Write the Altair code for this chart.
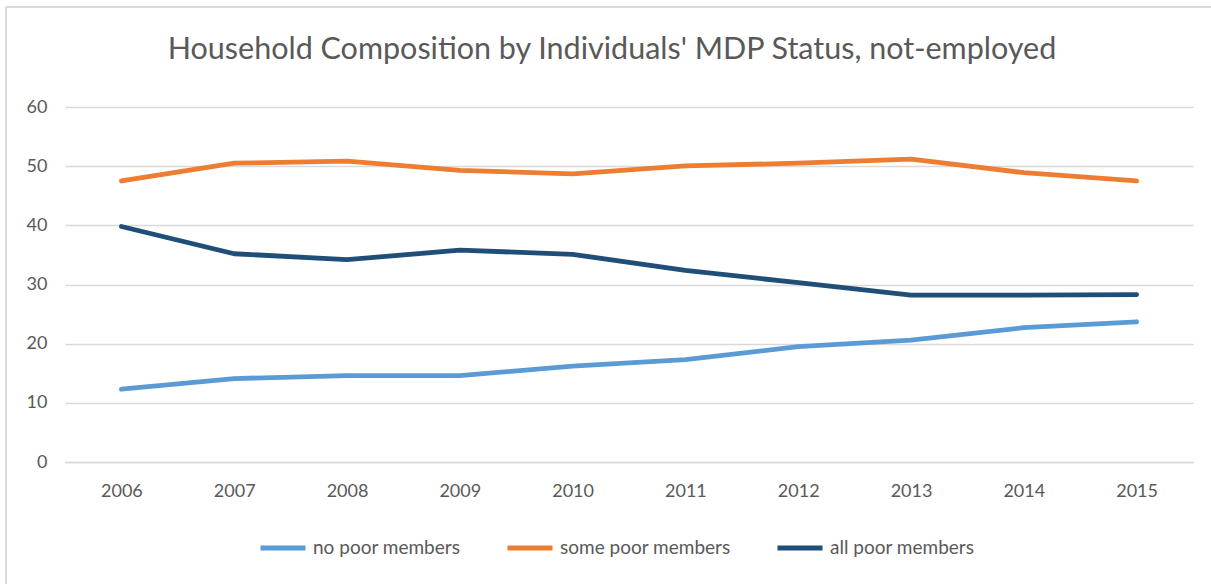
import altair as alt
import pandas as pd

years = ["2006", "2007", "2008", "2009", "2010", "2011", "2012", "2013", "2014", "2015"]
no_poor = [12.3, 14.1, 14.6, 14.6, 16.2, 17.3, 19.5, 20.6, 22.7, 23.7]
some_poor = [47.5, 50.5, 50.85, 49.3, 48.7, 50.05, 50.5, 51.2, 48.9, 47.5]
all_poor = [39.8, 35.2, 34.2, 35.8, 35.1, 32.4, 30.3, 28.2, 28.2, 28.3]
series_names = ["no poor members", "some poor members", "all poor members"]
series_colors = ["#5B9BD5", "#ED7D31", "#1F4E79"]
y_ticks = [0, 10, 20, 30, 40, 50, 60]

rows = []
for name, vals in zip(series_names, [no_poor, some_poor, all_poor]):
    for yr, v in zip(years, vals):
        rows.append({"year": yr, "value": v, "series": name})
df = pd.DataFrame(rows)

FONT = "Lato"

lines = alt.Chart(df).mark_line(strokeWidth=4.8, strokeCap="round", strokeJoin="round").encode(
    x=alt.X("year:O", sort=years,
            scale=alt.Scale(type="point", padding=0.5),
            axis=alt.Axis(title=None, labelAngle=0, ticks=False, domain=True,
                          domainColor="#d9d9d9", domainWidth=1.5, grid=False,
                          labelPadding=20, labelFontSize=18, labelColor="#595959",
                          labelFont=FONT)),
    y=alt.Y("value:Q", scale=alt.Scale(domain=[0, 60], nice=False),
            axis=alt.Axis(title=None, values=y_ticks, ticks=False, domain=False,
                          grid=True, gridColor="#d9d9d9", gridWidth=1.5,
                          labelPadding=18, labelFontSize=18, labelColor="#595959",
                          labelFont=FONT)),
    color=alt.Color("series:N", sort=series_names,
                    scale=alt.Scale(domain=series_names, range=series_colors),
                    legend=alt.Legend(title=None, orient="none", direction="horizontal",
                                      legendX=193, legendY=416,
                                      symbolType="stroke", symbolSize=2025,
                                      symbolStrokeWidth=5, labelOffset=5,
                                      columnPadding=36, labelLimit=0,
                                      labelFontSize=19, labelColor="#595959",
                                      labelFont=FONT)),
)

frame_left = alt.Chart(df).mark_rule(color="#d9d9d9", strokeWidth=2, clip=False).encode(
    x=alt.value(-59), y=alt.value(-100), y2=alt.value(490))
frame_top = alt.Chart(df).mark_rule(color="#d9d9d9", strokeWidth=2, clip=False).encode(
    x=alt.value(-59), x2=alt.value(1160), y=alt.value(-100))

chart = alt.layer(frame_left, frame_top, lines).properties(
    width=1128, height=355,
    background="white",
    title=alt.TitleParams("Household Composition by Individuals' MDP Status, not-employed",
                          fontSize=30.5, font=FONT, fontWeight="normal", color="#595959",
                          anchor="middle", frame="group", offset=-59, dx=-17),
    autosize=alt.AutoSizeParams(type="none"),
    padding={"left": 65, "top": 107, "right": 18, "bottom": 122},
).configure_view(stroke=None)

chart.save("out.html", embed_options={"renderer": "svg", "actions": False})
